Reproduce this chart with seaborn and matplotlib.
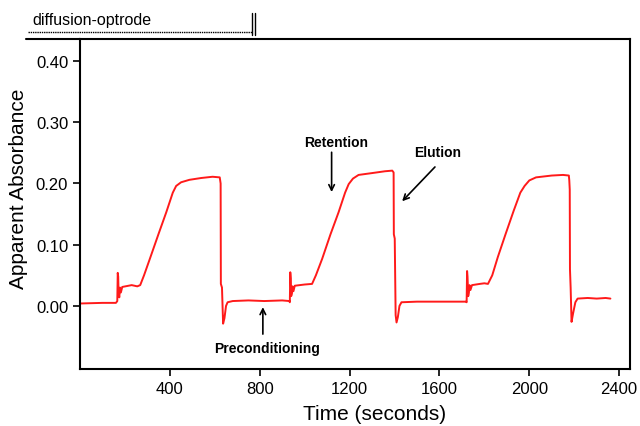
import matplotlib
matplotlib.use("Agg")
import matplotlib.pyplot as plt
from matplotlib.lines import Line2D
import seaborn as sns

# Trace: time (s) and apparent absorbance
time = [0, 100, 160, 166, 168, 170, 172, 175, 178, 182, 188, 230, 255, 268,
        285, 310, 350, 384, 413, 428, 450, 487, 540, 590, 622, 626, 627, 632,
        637, 643, 650, 657, 680, 750, 820, 900, 932,
        934, 936, 938, 940, 943, 946, 950, 956, 1000, 1033, 1050, 1078, 1115,
        1151, 1180, 1196, 1215, 1240, 1300, 1358, 1390, 1396, 1397, 1401, 1405,
        1409, 1415, 1422, 1431, 1500, 1600, 1719,
        1721, 1723, 1725, 1728, 1731, 1734, 1738, 1745, 1780, 1800, 1816, 1835,
        1860, 1895, 1930, 1960, 1979, 2000, 2030, 2100, 2150, 2176, 2178, 2180,
        2181, 2184, 2188, 2195, 2205, 2215, 2260, 2300, 2340, 2361]
absorbance = [0.004, 0.005, 0.005, 0.008, 0.054, 0.048, 0.018, 0.014, 0.030, 0.022, 0.031, 0.034, 0.032, 0.034,
              0.050, 0.076, 0.118, 0.153, 0.185, 0.196, 0.202, 0.206, 0.209, 0.211, 0.210, 0.200, 0.036, 0.030,
              -0.029, -0.020, 0.000, 0.006, 0.008, 0.009, 0.008, 0.009, 0.008,
              0.006, 0.055, 0.045, 0.016, 0.020, 0.032, 0.024, 0.033, 0.035, 0.036, 0.050, 0.077, 0.117,
              0.153, 0.185, 0.199, 0.208, 0.214, 0.217, 0.220, 0.221, 0.218, 0.117, 0.110, -0.015,
              -0.027, -0.018, 0.000, 0.006, 0.007, 0.007, 0.007,
              0.006, 0.057, 0.048, 0.016, 0.022, 0.034, 0.026, 0.034, 0.036, 0.037, 0.036, 0.050,
              0.080, 0.118, 0.155, 0.185, 0.196, 0.205, 0.210, 0.213, 0.214, 0.213, 0.205, 0.190,
              0.060, 0.030, -0.026, -0.012, 0.006, 0.012, 0.013, 0.012, 0.013, 0.012]

x_ticks = [400, 800, 1200, 1600, 2000, 2400]
y_ticks = [0.00, 0.10, 0.20, 0.30, 0.40]

sns.set_style("ticks")
plt.rcParams['font.family'] = ['Liberation Sans', 'DejaVu Sans']
plt.rcParams.update({"text.color": "black", "axes.labelcolor": "black",
                     "xtick.color": "black", "ytick.color": "black"})

fig = plt.figure(figsize=(6.4, 4.27), dpi=100)
ax = fig.add_axes([0.125, 0.1335, 0.86, 0.7728])

sns.lineplot(x=time, y=absorbance, ax=ax, color="#ff1a1a", linewidth=1.4,
             estimator=None, sort=False)

ax.set_xlim(0, 2450)
ax.set_ylim(-0.103, 0.436)
ax.set_xticks(x_ticks)
ax.set_xticklabels([str(t) for t in x_ticks])
ax.set_yticks(y_ticks)
ax.set_yticklabels([f"{v:.2f}" for v in y_ticks])
ax.tick_params(labelsize=12, length=5, width=1.2, direction="out")
for s in ax.spines.values():
    s.set_linewidth(1.5)
    s.set_color("black")
ax.set_xlabel("Time (seconds)", fontsize=15)
ax.set_ylabel("Apparent Absorbance", fontsize=15)
ax.xaxis.set_label_coords(0.536, -0.105)
ax.yaxis.set_label_coords(-0.094, 0.55)

arrow = dict(arrowstyle="->", color="black", lw=1.2, shrinkA=0, shrinkB=0)
ax.text(1142, 0.268, "Retention", ha="center", va="center", fontsize=10, fontweight="bold")
ax.annotate("", xy=(1120, 0.186), xytext=(1120, 0.251), arrowprops=arrow)
ax.text(1593, 0.251, "Elution", ha="center", va="center", fontsize=10, fontweight="bold")
ax.annotate("", xy=(1434, 0.171), xytext=(1580, 0.227), arrowprops=arrow)
ax.text(832, -0.069, "Preconditioning", ha="center", va="center", fontsize=10, fontweight="bold")
ax.annotate("", xy=(814, -0.002), xytext=(814, -0.046), arrowprops=arrow)

# legend-like label above the axes
W, H = 640.0, 427.0
fig.text(32 / W, 1 - 20 / H, "diffusion-optrode", fontsize=11.5, ha="left", va="center")
fig.add_artist(Line2D([28 / W, 252 / W], [1 - 33 / H, 1 - 33 / H], color="black",
                      lw=1.0, linestyle=(0, (1, 0.6))))
for xv in (252, 255):
    fig.add_artist(Line2D([xv / W, xv / W], [1 - 14 / H, 1 - 36 / H], color="black", lw=1.0))
fig.add_artist(Line2D([26 / W, 80 / W], [1 - 40 / H, 1 - 40 / H], color="black", lw=1.5))

fig.savefig("out.png", dpi=100)
